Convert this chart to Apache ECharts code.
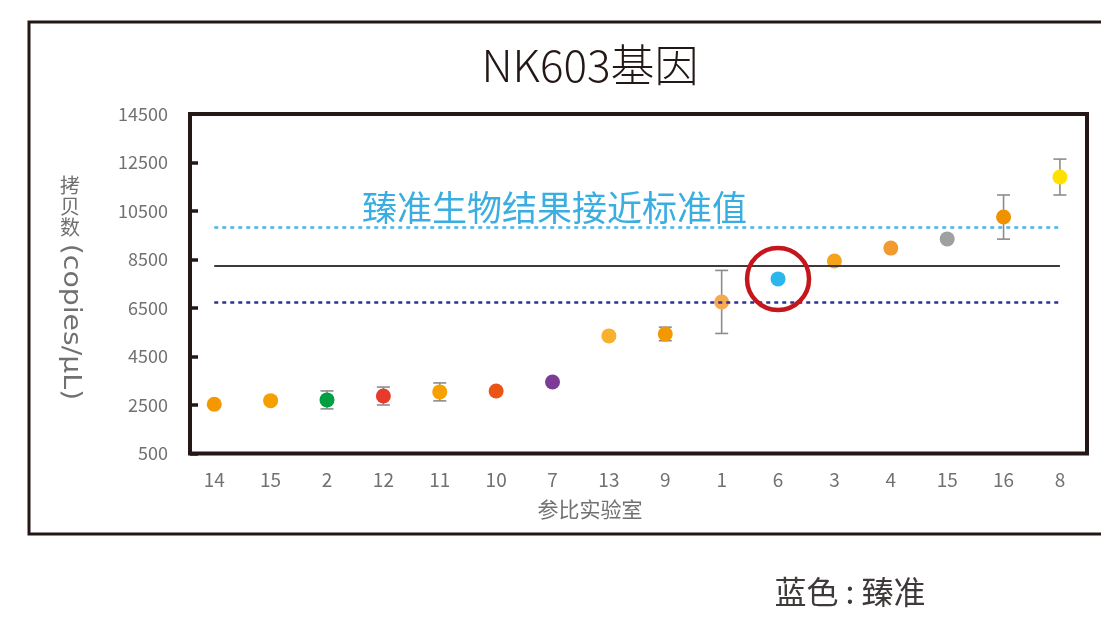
<!DOCTYPE html>
<html>
<head>
<meta charset="utf-8">
<script src="https://cdn.jsdelivr.net/npm/echarts@6/dist/echarts.min.js"></script>
<style>
html,body{margin:0;padding:0;background:#fff;}
#chart{width:1101px;height:617px;}
</style>
</head>
<body>
<div id="chart"></div>
<script>
// ---- data ----
const labs = ['14','15','2','12','11','10','7','13','9','1','6','3','4','15','16','8'];
const copies = [2530, 2680, 2710, 2870, 3040, 3080, 3450, 5350, 5430, 6750, 7700, 8440, 8970, 9350, 10250, 11900];
const errors = [0, 0, 370, 370, 370, 0, 0, 0, 280, 1300, 0, 0, 0, 0, 910, 740];
const pointColors = ['#f39800','#f5a000','#00a040','#e83a2c','#f5a100','#ea5514','#7b3b97','#f9b12d','#f39800','#f6a94f','#2cb7ec','#f5a31a','#f39a2e','#9fa0a0','#f09100','#ffe100'];
const upperLimit = 9850;
const referenceValue = 8230;
const lowerLimit = 6720;
const highlightIndex = 10;
const yMin = 500, yMax = 14500, yStep = 2000;

const FONT = '"Noto Sans CJK SC", "Noto Sans", sans-serif';
const xIdx = labs.map((_, i) => i);

const pointData = copies.map((v, i) => ({ value: [i, v], itemStyle: { color: pointColors[i], opacity: 1 } }));
const errData = [];
copies.forEach((v, i) => { if (errors[i] > 0) errData.push([i, v - errors[i], v + errors[i]]); });

const chart = echarts.init(document.getElementById('chart'), null, { renderer: 'canvas' });

chart.setOption({
  animation: false,
  backgroundColor: '#ffffff',
  grid: {
    left: 190, top: 114, width: 897, height: 339.5,
    show: true, borderColor: '#231815', borderWidth: 4, backgroundColor: 'transparent'
  },
  xAxis: {
    type: 'value',
    min: -0.43, max: 15.48,
    splitLine: { show: false },
    axisLine: { show: false, onZero: false },
    axisTick: { show: false },
    axisLabel: {
      customValues: xIdx,
      formatter: (v) => labs[Math.round(v)],
      color: '#727171', fontSize: 19, fontFamily: FONT, margin: 17
    }
  },
  yAxis: {
    type: 'value',
    min: yMin, max: yMax, interval: yStep,
    splitLine: { show: false },
    axisLine: { show: false, onZero: false },
    axisTick: { show: true, inside: true, length: 8, lineStyle: { color: '#231815', width: 3.5 } },
    axisLabel: { color: '#727171', fontSize: 18, fontFamily: FONT, margin: 22, formatter: (v) => String(v) }
  },
  series: [
    {
      type: 'line', data: [], silent: true,
      markLine: {
        silent: true, symbol: 'none', label: { show: false },
        data: [
          [{ coord: [0, upperLimit], lineStyle: { color: '#4cb4e7', type: [4, 4], width: 2.5 } }, { coord: [15, upperLimit] }],
          [{ coord: [0, referenceValue], lineStyle: { color: '#3e3a39', type: 'solid', width: 2 } }, { coord: [15, referenceValue] }],
          [{ coord: [0, lowerLimit], lineStyle: { color: '#2e3192', type: [4, 4], width: 2.5 } }, { coord: [15, lowerLimit] }]
        ]
      }
    },
    {
      type: 'custom',
      data: errData,
      z: 3,
      renderItem: function (params, api) {
        const x = api.value(0);
        const top = api.coord([x, api.value(2)]);
        const bot = api.coord([x, api.value(1)]);
        const w = 6.5;
        const st = { stroke: '#8c8c8c', lineWidth: 1.6 };
        return {
          type: 'group',
          children: [
            { type: 'line', shape: { x1: top[0], y1: top[1], x2: bot[0], y2: bot[1] }, style: st },
            { type: 'line', shape: { x1: top[0] - w, y1: top[1], x2: top[0] + w, y2: top[1] }, style: st },
            { type: 'line', shape: { x1: bot[0] - w, y1: bot[1], x2: bot[0] + w, y2: bot[1] }, style: st }
          ]
        };
      }
    },
    {
      type: 'scatter',
      data: pointData,
      symbolSize: 15,
      itemStyle: { opacity: 1 },
      z: 4
    },
    {
      type: 'scatter',
      data: [[highlightIndex, copies[highlightIndex]]],
      symbol: 'circle',
      symbolSize: 62,
      itemStyle: { color: 'rgba(0,0,0,0)', borderColor: '#c4161c', borderWidth: 4.5, opacity: 1 },
      z: 5
    }
  ],
  graphic: [
    {
      type: 'rect', silent: true,
      shape: { x: 29, y: 22, width: 1110, height: 512 },
      style: { fill: 'none', stroke: '#231815', lineWidth: 3 }
    },
    {
      type: 'text', x: 590, y: 65,
      style: { text: 'NK603基因', fill: '#231815', font: '300 44px ' + FONT, textAlign: 'center', textVerticalAlign: 'middle' }
    },
    {
      type: 'text', x: 362, y: 208, z: 10,
      style: { text: '臻准生物结果接近标准值', fill: '#3aaee0', font: '35px ' + FONT, textAlign: 'left', textVerticalAlign: 'middle' }
    },
    {
      type: 'text', x: 70, y: 175,
      style: { text: '拷\n贝\n数', fill: '#727171', font: '20px ' + FONT, lineHeight: 21, textAlign: 'center', textVerticalAlign: 'top' }
    },
    {
      type: 'text', x: 70, y: 322, rotation: -Math.PI / 2, scaleX: 1.18,
      style: { text: '(copies/μL)', fill: '#727171', font: '24px "DejaVu Sans", sans-serif', textAlign: 'center', textVerticalAlign: 'middle' }
    },
    {
      type: 'text', x: 590, y: 509,
      style: { text: '参比实验室', fill: '#727171', font: '21px ' + FONT, textAlign: 'center', textVerticalAlign: 'middle' }
    },
    {
      type: 'text', x: 850, y: 592,
      style: { text: '蓝色 : 臻准', fill: '#3e3a39', font: '32px ' + FONT, textAlign: 'center', textVerticalAlign: 'middle' }
    }
  ]
});
</script>
</body>
</html>
